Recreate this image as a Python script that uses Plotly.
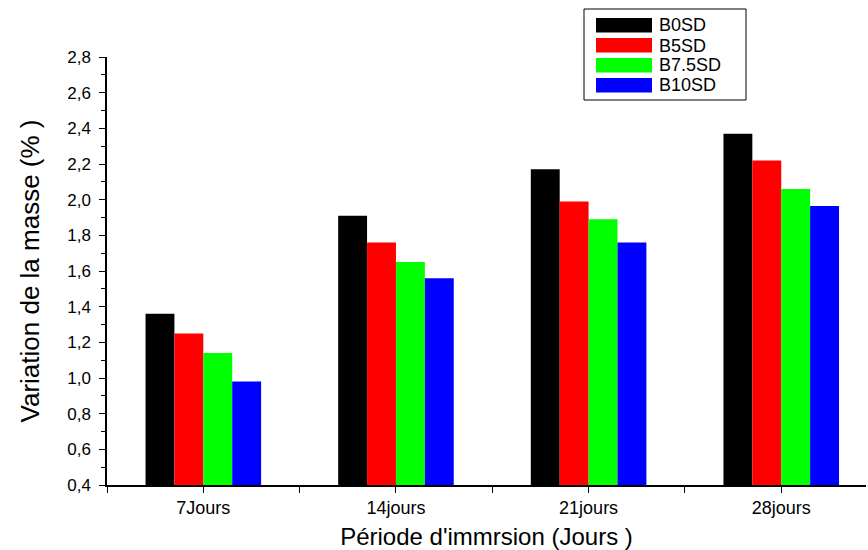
import plotly.graph_objects as go

categories = ["7Jours", "14jours", "21jours", "28jours"]
series_names = ["B0SD", "B5SD", "B7.5SD", "B10SD"]
b0sd = [1.36, 1.91, 2.17, 2.37]
b5sd = [1.25, 1.76, 1.99, 2.22]
b75sd = [1.14, 1.65, 1.89, 2.06]
b10sd = [0.98, 1.56, 1.76, 1.965]
colors = ["#000000", "#FF0000", "#00FF00", "#0000FF"]

series_values = [b0sd, b5sd, b75sd, b10sd]
xpos = list(range(len(categories)))

W, H = 868, 550
L, R, T, B = 107, 2, 57, 65
pw, ph = W - L - R, H - T - B

fig = go.Figure()
for name, vals, col in zip(series_names, series_values, colors):
    fig.add_trace(go.Bar(x=xpos, y=vals, name=name, marker=dict(color=col, line=dict(width=0)),
                         showlegend=False))

def px(x):
    return (x - L) / pw

def py(y):
    return (H - B - y) / ph

shapes = [dict(type="rect", xref="paper", yref="paper", x0=px(584), x1=px(746), y0=py(100), y1=py(9),
               line=dict(color="black", width=1), fillcolor="white")]
annotations = []
for i, (name, col) in enumerate(zip(series_names, colors)):
    top = 18 + i * 20
    shapes.append(dict(type="rect", xref="paper", yref="paper", x0=px(596), x1=px(652),
                       y0=py(top + 14.5), y1=py(top), line=dict(width=0), fillcolor=col))
    annotations.append(dict(xref="paper", yref="paper", x=px(657), y=py(top + 7.5), text=name,
                            showarrow=False, xanchor="left", yanchor="middle",
                            font=dict(size=18, color="black", family="Liberation Sans, Arial")))

fig.update_layout(
    width=W, height=H,
    margin=dict(l=L, r=R, t=T, b=B, pad=0),
    plot_bgcolor="white", paper_bgcolor="white",
    barmode="group", bargap=0.4, bargroupgap=0,
    separators=", ",
    font=dict(family="Liberation Sans, Arial", color="black", size=17),
    shapes=shapes, annotations=annotations,
    xaxis=dict(range=[-0.5, 3.44], tickmode="array", tickvals=xpos, ticktext=categories,
               ticks="outside", ticklen=6, tickwidth=1, tickcolor="black",
               showline=True, linecolor="black", linewidth=1.5, showgrid=False, zeroline=False,
               minor=dict(tickmode="linear", tick0=-0.5, dtick=1, ticks="outside", ticklen=6,
                          tickcolor="black", showgrid=False),
               tickfont=dict(size=18),
               title=dict(text="Période d'immrsion (Jours )", font=dict(size=24), standoff=11)),
    yaxis=dict(range=[0.4, 2.8], tickmode="linear", tick0=0.4, dtick=0.2, tickformat=".1f",
               ticks="outside", ticklen=6, tickwidth=1, tickcolor="black",
               showline=True, linecolor="black", linewidth=1.5, showgrid=False, zeroline=False,
               minor=dict(tickmode="linear", tick0=0.3, dtick=0.2, ticks="outside", ticklen=4,
                          tickcolor="black", showgrid=False),
               tickfont=dict(size=17), ticklabelstandoff=5,
               title=dict(text="Variation de la masse (% )", font=dict(size=26), standoff=20)),
)

fig.write_html("out.html")
